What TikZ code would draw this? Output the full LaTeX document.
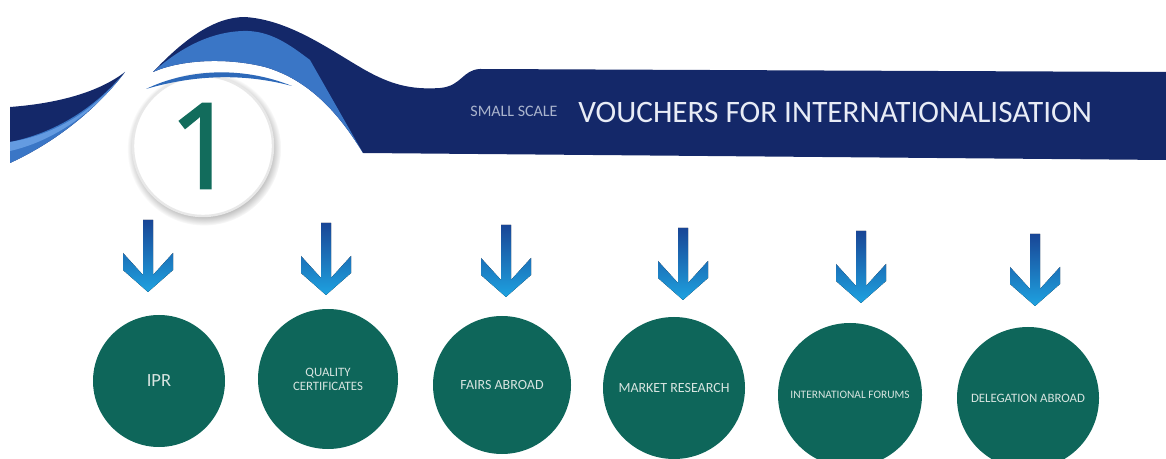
\documentclass[tikz,border=0pt]{standalone}
\usepackage{fontspec}
\setmainfont{Carlito}
\newfontfamily\numfont[FakeBold=2]{Open Sans}
\usetikzlibrary{shadows}

\definecolor{bannerblue}{RGB}{20,40,105}
\definecolor{waveblue}{RGB}{58,118,198}
\definecolor{stripeblue}{RGB}{45,105,185}
\definecolor{streakblue}{RGB}{100,155,225}
\definecolor{topicgreen}{RGB}{14,102,90}
\definecolor{topictext}{RGB}{215,228,224}
\definecolor{numgreen}{RGB}{18,108,92}
\definecolor{arrowdark}{RGB}{25,70,150}
\definecolor{arrowmid}{RGB}{30,140,212}
\definecolor{arrowcyan}{RGB}{30,162,224}
\definecolor{titlewhite}{RGB}{232,236,246}
\definecolor{smallgray}{RGB}{170,180,205}

\tikzset{
  pics/dnarrow/.style={code={
    \fill[top color=arrowdark, middle color=arrowmid, bottom color=arrowcyan]
      (-5,0) -- (5,0) -- (5,55) -- (25,33) -- (25,50) -- (0,72)
      -- (-25,50) -- (-25,33) -- (-5,55) -- cycle;
  }}
}

\begin{document}
\begin{tikzpicture}[x=0.5pt, y=-0.5pt,
  topic/.style={circle, fill=topicgreen, text=topictext, align=center, inner sep=0pt, minimum size=70pt, font=\fontsize{7}{8}\selectfont},
  numring/.style={circle, fill=white, draw=gray!18, line width=1.2pt, minimum size=70pt, inner sep=0pt, text=numgreen, font=\numfont\fontsize{59}{59}\selectfont,
    circular drop shadow={shadow xshift=0.5pt, shadow yshift=-1.2pt, fill=gray!60}}
]
\useasboundingbox (0,0) rectangle (1166,459);

% number badge
\node[numring] (num) at (203,146) {1};

% left wedge
\fill[bannerblue] (10,107) .. controls (50,104) and (95,95) .. (125,72)
  .. controls (100,105) and (60,140) .. (10,163) -- cycle;
\fill[waveblue] (10,142) .. controls (55,133) and (95,108) .. (125,72)
  .. controls (100,105) and (60,140) .. (10,163) -- cycle;
\fill[streakblue] (10,142) .. controls (50,136) and (90,114) .. (118,80)
  .. controls (90,116) and (50,142) .. (10,151) -- cycle;

% banner wave
\fill[bannerblue] (153,72) .. controls (185,38) and (215,17) .. (245,17)
  .. controls (290,20) and (330,50) .. (365,70)
  .. controls (390,84) and (410,90) .. (440,88)
  .. controls (462,86) and (462,70) .. (480,69)
  -- (1166,72) -- (1166,160) -- (363,153)
  .. controls (340,115) and (310,80) .. (265,67)
  .. controls (225,57) and (180,60) .. (153,72) -- cycle;
\fill[waveblue] (153,72) .. controls (180,48) and (210,32) .. (243,31)
  .. controls (270,30) and (290,45) .. (310,60) -- (363,153)
  .. controls (340,115) and (310,80) .. (265,67)
  .. controls (225,57) and (180,60) .. (153,72) -- cycle;
\fill[stripeblue] (146,89) .. controls (185,70) and (240,65) .. (292,86)
  .. controls (240,72) and (190,76) .. (146,89) -- cycle;

% heading
\node[anchor=west, inner sep=0pt, text=smallgray, font=\fontsize{8}{8}\selectfont] (scale) at (470,111) {SMALL SCALE};
\node[anchor=west, inner sep=0pt, text=titlewhite, font=\fontsize{15.6}{16}\selectfont] (title) at (578,112) {VOUCHERS FOR INTERNATIONALISATION};

% arrows
\pic (arr1) at (148,220) {dnarrow};
\pic (arr2) at (326,223) {dnarrow};
\pic (arr3) at (506,225) {dnarrow};
\pic (arr4) at (683,228) {dnarrow};
\pic (arr5) at (861,231) {dnarrow};
\pic (arr6) at (1035,234) {dnarrow};

% topics
\node[topic, minimum size=66pt, font=\fontsize{9.3}{10}\selectfont] (ipr) at (159,381) {IPR};
\node[topic, font=\fontsize{6.4}{7}\selectfont] (quality) at (328,379) {QUALITY\\CERTIFICATES};
\node[topic, minimum size=69pt] (fairs) at (502,385) {FAIRS ABROAD};
\node[topic, minimum size=71pt] (market) at (674,388) {MARKET RESEARCH};
\node[topic, minimum size=72pt, font=\fontsize{5.7}{6}\selectfont] (forums) at (850,395) {INTERNATIONAL FORUMS};
\node[topic, minimum size=71pt, font=\fontsize{6.4}{7}\selectfont] (delegation) at (1028,398) {DELEGATION ABROAD};
\end{tikzpicture}
\end{document}
